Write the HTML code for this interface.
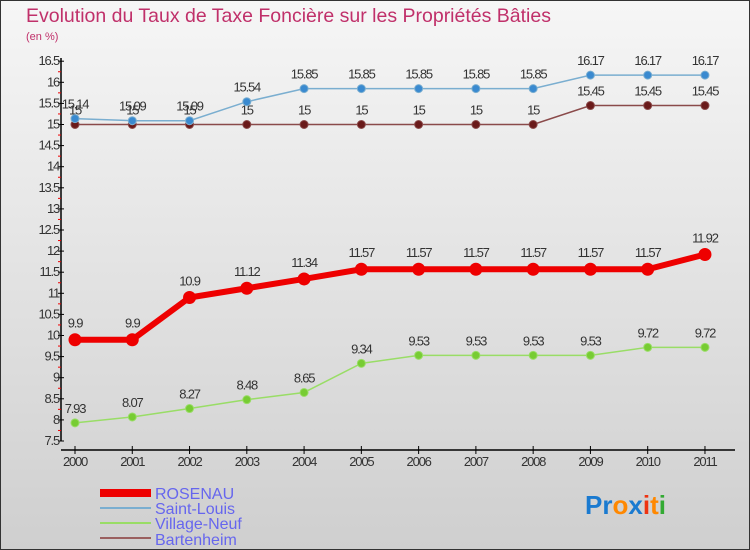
<!DOCTYPE html>
<html><head><meta charset="utf-8"><style>
body{margin:0}
#c{width:750px;height:550px;position:relative;background:linear-gradient(#f6f6f6,#cfcfcf);border:1px solid #333;box-sizing:border-box;font-family:"Liberation Sans",sans-serif;overflow:hidden}
</style></head><body>
<div id="c">
<svg id="s" width="750" height="550" style="position:absolute;left:-1px;top:-1px">
<text x="26" y="22" font-size="19.5" fill="#c0306a">Evolution du Taux de Taxe Foncière sur les Propriétés Bâties</text>
<text x="26" y="40" font-size="11" fill="#c0306a">(en %)</text>
<g id="ax"></g><g id="ser"></g>
<g>
<rect x="100" y="489" width="51" height="8" fill="#ee0000"/>
<text x="155" y="499" font-size="16" fill="#6666ee">ROSENAU</text>
<rect x="100" y="507" width="51" height="2" fill="#7aaed0"/>
<text x="155" y="514" font-size="16" fill="#6666ee">Saint-Louis</text>
<rect x="100" y="522" width="51" height="2" fill="#99dd66"/>
<text x="155" y="529" font-size="16" fill="#6666ee">Village-Neuf</text>
<rect x="100" y="537" width="51" height="2" fill="#9a6060"/>
<text x="155" y="545" font-size="16" fill="#6666ee">Bartenheim</text>
</g>
<text x="585" y="514" font-size="26" font-weight="bold"><tspan fill="#1a7ad0">Pr</tspan><tspan fill="#ff8800">o</tspan><tspan fill="#1a7ad0">x</tspan><tspan fill="#ee3311">i</tspan><tspan fill="#ff8800">t</tspan><tspan fill="#33aa33">i</tspan></text>
</svg>
</div>
<script>
const years=[2000,2001,2002,2003,2004,2005,2006,2007,2008,2009,2010,2011];
const yTicks=[7.5,8,8.5,9,9.5,10,10.5,11,11.5,12,12.5,13,13.5,14,14.5,15,15.5,16,16.5];
const rosenau=[9.9,9.9,10.9,11.12,11.34,11.57,11.57,11.57,11.57,11.57,11.57,11.92];
const saintLouis=[15.14,15.09,15.09,15.54,15.85,15.85,15.85,15.85,15.85,16.17,16.17,16.17];
const villageNeuf=[7.93,8.07,8.27,8.48,8.65,9.34,9.53,9.53,9.53,9.53,9.72,9.72];
const bartenheim=[15,15,15,15,15,15,15,15,15,15.45,15.45,15.45];
const NS="http://www.w3.org/2000/svg";
const x=i=>75+i*57.27, y=v=>441-(v-7.5)*42.2;
function mk(t,a,p){const e=document.createElementNS(NS,t);for(const k in a)e.setAttribute(k,a[k]);p.appendChild(e);return e;}
const ax=document.getElementById('ax'), ser=document.getElementById('ser');
let e=mk('line',{x1:61,y1:58,x2:61,y2:441,stroke:'#000','stroke-width':1.5},ax);

e=mk('line',{x1:61,y1:450,x2:735,y2:450,stroke:'#000','stroke-width':1.5},ax);

yTicks.forEach((v,i)=>{
 e=mk('line',{x1:58,y1:y(v),x2:64,y2:y(v),stroke:'#000'},ax);
 
 if(i<yTicks.length-1){e=mk('line',{x1:58,y1:y(v+0.25),x2:61,y2:y(v+0.25),stroke:'#e00'},ax);
 }
 e=mk('text',{x:59,y:y(v)+4,'font-size':13,'text-anchor':'end',fill:'#333','letter-spacing':'-1.2'},ax);e.textContent=v;
 
});
years.forEach((yr,i)=>{
 e=mk('line',{x1:x(i),y1:446,x2:x(i),y2:454,stroke:'#000'},ax);
 
 e=mk('text',{x:x(i),y:466,'font-size':13,'text-anchor':'middle',fill:'#333','letter-spacing':'-1.2'},ax);e.textContent=yr;
 
});
function series(vals,name,col,dot,w,r){
 const g=mk('g',{},ser);
 const pl=mk('polyline',{points:vals.map((v,i)=>x(i)+','+y(v)).join(' '),fill:'none',stroke:col,'stroke-width':w},g);
 
 vals.forEach((v,i)=>{
  const c=mk('circle',{cx:x(i),cy:y(v),r:r,fill:dot,stroke:col,'stroke-width':1},g);
  
  const t=mk('text',{x:x(i),y:y(v)-r-6,'font-size':13,'text-anchor':'middle',fill:'#333','letter-spacing':'-1.2'},g);t.textContent=v;
  
 });
}
series(bartenheim,'bartenheim','#8a4a4a','#6a1a1a',1.5,4);
series(saintLouis,'saint-louis','#7aaed0','#3a8ad0',1.5,4);
series(villageNeuf,'village-neuf','#99dd66','#77cc33',1.5,4);
series(rosenau,'rosenau','#ee0000','#ee0000',6,6);
</script>
</body></html>
